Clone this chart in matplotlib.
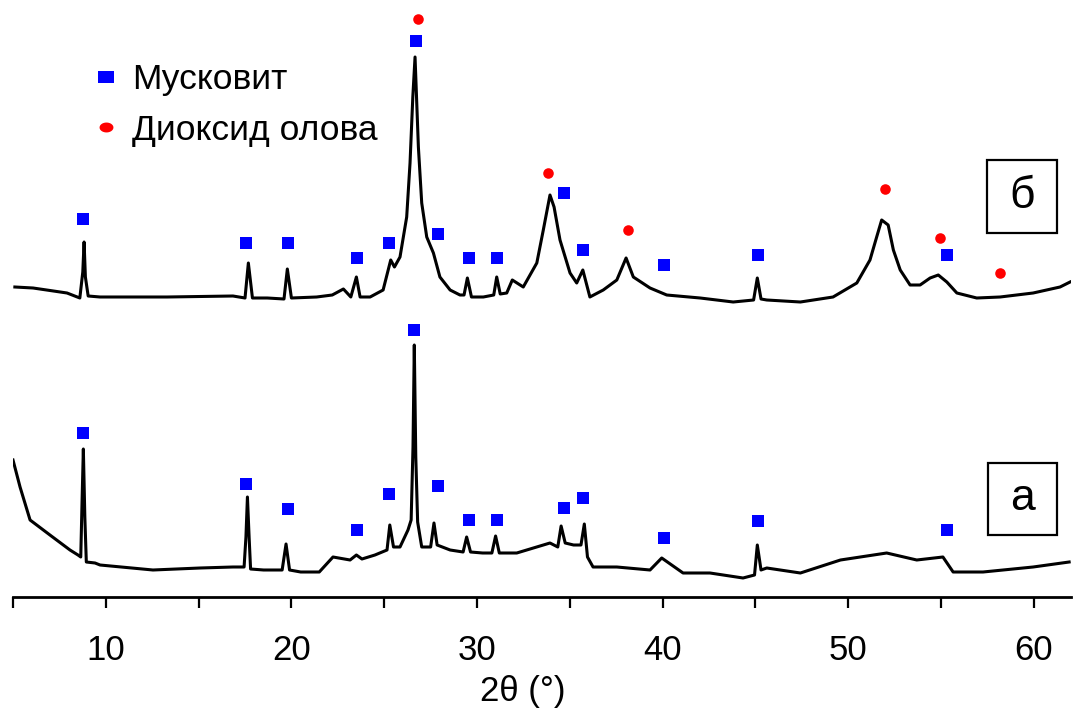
import matplotlib
matplotlib.use("Agg")
import matplotlib.pyplot as plt
from matplotlib.lines import Line2D
from matplotlib.patches import Rectangle
from matplotlib.path import Path
import numpy as np

plt.rcParams['font.family'] = ['Liberation Sans', 'DejaVu Sans']

# ---- data (2theta in degrees, intensity in arbitrary units) ----
a_x = [5.0, 5.38, 5.92, 6.99, 8.07, 8.50, 8.65, 8.72, 8.79, 8.87, 8.95, 9.42, 9.69, 12.54, 15.08, 16.85,
       17.45, 17.55, 17.63, 17.72, 17.80, 18.5, 19.5, 19.71, 19.9, 20.5, 21.5, 22.24, 23.16, 23.5, 23.8, 24.5,
       25.15, 25.3, 25.5, 25.85, 26.28, 26.45, 26.55, 26.62, 26.7, 26.8, 27.02, 27.5, 27.68, 27.85, 28.55,
       29.25, 29.44, 29.65, 30.3, 30.8, 31.0, 31.2, 32.14, 33.93, 34.35, 34.53, 34.75, 35.2,
       35.6, 35.78, 35.95, 36.25, 37.53, 39.32, 39.95, 41.1, 42.55, 44.33, 44.95, 45.1, 45.3,
       45.61, 47.42, 49.58, 52.07, 53.69, 55.1, 55.65, 57.26, 59.96, 61.9]
a_y = [137, 110, 77, 62, 47, 42, 40, 95, 148, 80, 35, 34, 32, 27, 29, 30,
       30, 60, 100, 60, 28, 27, 27, 53, 27, 25, 25, 40, 37, 42, 38, 42,
       47, 72, 50, 50, 67, 77, 150, 252, 140, 75, 50, 50, 74, 52, 47,
       45, 60, 45, 44, 44, 61, 44, 44, 54, 50, 71, 54, 52,
       52, 73, 40, 30, 30, 27, 39, 24, 24, 19, 22, 52, 27,
       29, 24, 37, 44, 37, 40, 25, 25, 30, 35]

b_x = [5.1, 6.08, 7.91, 8.6, 8.76, 8.83, 8.9, 9.05, 9.69, 13.3, 16.85, 17.5, 17.68, 17.9, 18.7, 19.6,
       19.78, 20.0, 21.36, 22.2, 22.8, 23.2, 23.5, 23.7, 24.24, 24.94, 25.35, 25.55, 25.85,
       26.21, 26.39, 26.54, 26.66, 26.84, 27.02, 27.29, 27.65, 28.0, 28.55, 29.08, 29.3, 29.48,
       29.7, 30.34, 30.9, 31.06, 31.25, 31.6, 31.9, 32.49, 33.22, 33.57, 33.93, 34.15, 34.47,
       35.01, 35.37, 35.7, 36.08, 36.8, 37.53, 38.03, 38.42, 39.32, 40.22, 42.02, 43.8, 44.9,
       45.1, 45.3, 45.61, 47.42, 49.18, 50.46, 51.17, 51.53, 51.8, 52.15, 52.43, 52.8, 53.33,
       53.87, 54.41, 54.85, 55.31, 55.85, 56.92, 58.18, 59.96, 61.41, 61.95]
b_y = [310, 309, 304, 299, 325, 355, 320, 301, 300, 300, 301, 299, 334, 299, 299, 298,
       328, 299, 300, 302, 308, 300, 320, 300, 300, 307, 337, 330, 340,
       380, 434, 500, 540, 450, 394, 360, 344, 320, 307, 302, 302, 319,
       300, 300, 302, 320, 303, 304, 317, 310, 334, 367, 402, 390, 357,
       324, 314, 327, 300, 307, 317, 339, 320, 309, 302, 299, 295, 297,
       319, 298, 297, 295, 300, 314, 337, 360, 377, 372, 347, 327, 312,
       312, 319, 322, 315, 304, 299, 300, 304, 310, 315]

# phase markers
b_musc_x = [8.77, 17.57, 19.8, 23.55, 25.26, 26.7, 27.88, 29.57, 31.08, 34.69, 35.71, 40.09, 45.14, 55.31]
b_musc_y = [378, 354, 354, 339, 354, 556, 363, 339, 339, 404, 347, 332, 342, 342]
b_sno2_x = [26.84, 33.84, 38.12, 51.97, 54.95, 58.18]
b_sno2_y = [578, 424, 367, 408, 359, 324]
a_musc_x = [8.77, 17.57, 19.8, 23.55, 25.26, 26.62, 27.88, 29.57, 31.08, 34.69, 35.71, 40.09, 45.14, 55.31]
a_musc_y = [164, 113, 88, 67, 103, 267, 111, 77, 77, 89, 99, 59, 76, 67]

tick_pos = [5, 10, 15, 20, 25, 30, 35, 40, 45, 50, 55, 60]
tick_lbl = ['', '10', '', '20', '', '30', '', '40', '', '50', '', '60']
legend_labels = ['Мусковит', 'Диоксид олова']
panel_labels = ['б', 'а']
x_label = '2θ (°)'

# ---- figure ----
W, H = 1074, 726
fig = plt.figure(figsize=(W / 100, H / 100), dpi=100)
ax = fig.add_axes([13 / W, 1 - 597 / H, 1058 / W, 597 / H])
ax.set_xlim(5, 62)
ax.set_ylim(0, 597)

ax.plot(a_x, a_y, color='black', lw=2.2, solid_joinstyle='round')
ax.plot(b_x, b_y, color='black', lw=2.2, solid_joinstyle='round')

ax.plot(b_musc_x, b_musc_y, ls='none', marker='s', ms=8.4, mew=0, color='#0000ff')
ax.plot(a_musc_x, a_musc_y, ls='none', marker='s', ms=8.4, mew=0, color='#0000ff')
ax.plot(b_sno2_x, b_sno2_y, ls='none', marker='o', ms=7.6, mew=0, color='#ff0000')

for s in ['left', 'right', 'top']:
    ax.spines[s].set_visible(False)
ax.spines['bottom'].set_linewidth(2.0)
ax.set_yticks([])
ax.set_xticks(tick_pos)
ax.set_xticklabels(tick_lbl)
ax.tick_params(axis='x', direction='out', length=8, width=1.6, labelsize=25, pad=19)

fig.text(523 / W, 1 - 691 / H, x_label, ha='center', va='center', fontsize=25)

# legend with stretched markers
rect = Path([(-1.5, -1), (1.5, -1), (1.5, 1), (-1.5, 1), (-1.5, -1)],
            [Path.MOVETO, Path.LINETO, Path.LINETO, Path.LINETO, Path.CLOSEPOLY])
t = np.linspace(0, 2 * np.pi, 40)
ell = Path(np.column_stack([1.4 * np.cos(t), np.sin(t)]))
handles = [Line2D([], [], ls='none', marker=rect, ms=12.2, mew=0, color='#0000ff'),
           Line2D([], [], ls='none', marker=ell, ms=10, mew=0, color='#ff0000')]
ax.legend(handles, legend_labels, loc='upper left', bbox_to_anchor=(88 / W, 1 - 63 / H),
          bbox_transform=fig.transFigure, frameon=False, fontsize=25.5, borderpad=0,
          handlelength=1.0, handletextpad=0.25, labelspacing=0.5, borderaxespad=0)

# panel labels in boxes
for (x0, y0, x1, y1), lab in zip([(987, 160, 1057, 233), (988, 463, 1057, 535)], panel_labels):
    fig.patches.append(Rectangle((x0 / W, 1 - y1 / H), (x1 - x0) / W, (y1 - y0) / H,
                                 transform=fig.transFigure, fill=False, ec='black', lw=1.6))
    fig.text((x0 + x1) / 2 / W, 1 - (y0 + y1) / 2 / H, lab, ha='center', va='center',
             fontsize=32)

fig.savefig('out.png', dpi=100)
